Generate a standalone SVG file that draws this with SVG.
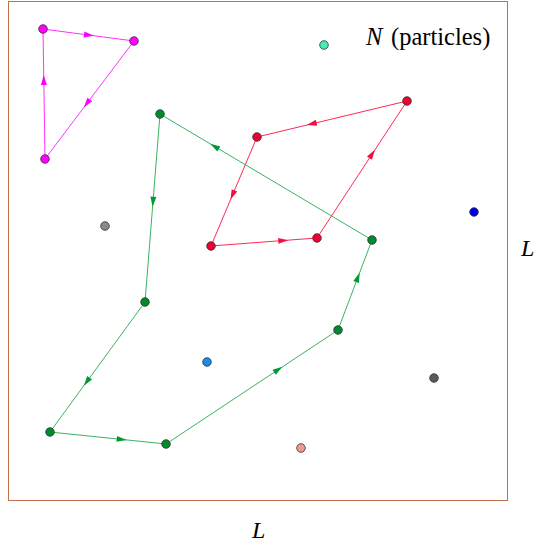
<svg xmlns="http://www.w3.org/2000/svg" width="536" height="547" viewBox="0 0 536 547">
<defs>
<style>
.n{stroke:#333;stroke-width:0.8}
.e{fill:none;stroke-width:1}
.mg{stroke:#ff33ff}
.rd{stroke:#ff2a55}
.gr{stroke:#3ab460}
.t{font-family:"Liberation Serif","Times New Roman",serif;font-size:24px;fill:#000}
.i{font-style:italic}
</style>
<marker id="am" markerUnits="userSpaceOnUse" markerWidth="12" markerHeight="8" viewBox="-6 -4 12 8" refX="0" refY="0" orient="auto"><path d="M-5,-3 L5,0 L-5,3 Z" fill="#ff00ff"/></marker>
<marker id="ar" markerUnits="userSpaceOnUse" markerWidth="12" markerHeight="8" viewBox="-6 -4 12 8" refX="0" refY="0" orient="auto"><path d="M-5,-3 L5,0 L-5,3 Z" fill="#f0103f"/></marker>
<marker id="ag" markerUnits="userSpaceOnUse" markerWidth="12" markerHeight="8" viewBox="-6 -4 12 8" refX="0" refY="0" orient="auto"><path d="M-5,-3 L5,0 L-5,3 Z" fill="#009a35"/></marker>
</defs>
<rect x="0" y="0" width="536" height="547" fill="#fff"/>
<rect id="box" x="8.5" y="1.5" width="499" height="499" fill="none" stroke="#c0704a" stroke-width="1"/>
<g id="connectors">
<polyline class="e mg" marker-mid="url(#am)" points="43,29 89,35.1 134,41"/>
<polyline class="e mg" marker-mid="url(#am)" points="134,41 86.8,103.5 45,159"/>
<polyline class="e mg" marker-mid="url(#am)" points="45,159 43.8,80 43,29"/>
<polyline class="e rd" marker-mid="url(#ar)" points="407,101 311.7,123.9 257,137"/>
<polyline class="e rd" marker-mid="url(#ar)" points="257,137 232.5,195 211,246"/>
<polyline class="e rd" marker-mid="url(#ar)" points="211,246 283.3,240.5 317,238"/>
<polyline class="e rd" marker-mid="url(#ar)" points="317,238 372.2,154 407,101"/>
<polyline class="e gr" marker-mid="url(#ag)" points="160,114 153,201.7 145,302"/>
<polyline class="e gr" marker-mid="url(#ag)" points="145,302 86.7,381.8 50,432"/>
<polyline class="e gr" marker-mid="url(#ag)" points="50,432 121.7,439.4 166,444"/>
<polyline class="e gr" marker-mid="url(#ag)" points="166,444 278.3,369.6 338,330"/>
<polyline class="e gr" marker-mid="url(#ag)" points="338,330 357.9,277.3 372,240"/>
<polyline class="e gr" marker-mid="url(#ag)" points="372,240 214.5,146.4 160,114"/>
</g>
<g id="nodes">
<g id="m1"><circle class="n" cx="43" cy="29" r="4.3" fill="#ff00ff"/></g>
<g id="m2"><circle class="n" cx="134" cy="41" r="4.3" fill="#ff00ff"/></g>
<g id="m3"><circle class="n" cx="45" cy="159" r="4.3" fill="#ff00ff"/></g>
<g id="r1"><circle class="n" cx="407" cy="101" r="4.3" fill="#ee0033"/></g>
<g id="r2"><circle class="n" cx="257" cy="137" r="4.3" fill="#ee0033"/></g>
<g id="r3"><circle class="n" cx="211" cy="246" r="4.3" fill="#ee0033"/></g>
<g id="r4"><circle class="n" cx="317" cy="238" r="4.3" fill="#ee0033"/></g>
<g id="g1"><circle class="n" cx="160" cy="114" r="4.3" fill="#008a2e"/></g>
<g id="g2"><circle class="n" cx="145" cy="302" r="4.3" fill="#008a2e"/></g>
<g id="g3"><circle class="n" cx="50" cy="432" r="4.3" fill="#008a2e"/></g>
<g id="g4"><circle class="n" cx="166" cy="444" r="4.3" fill="#008a2e"/></g>
<g id="g5"><circle class="n" cx="338" cy="330" r="4.3" fill="#008a2e"/></g>
<g id="g6"><circle class="n" cx="372" cy="240" r="4.3" fill="#008a2e"/></g>
<g id="p1"><circle class="n" cx="324" cy="45" r="4.3" fill="#40eebb"/></g>
<g id="p2"><circle class="n" cx="105" cy="226" r="4.3" fill="#8a8a8a"/></g>
<g id="p3"><circle class="n" cx="474" cy="212" r="4.3" fill="#0000ee"/></g>
<g id="p4"><circle class="n" cx="207" cy="362" r="4.3" fill="#1a8cf0"/></g>
<g id="p5"><circle class="n" cx="434" cy="378" r="4.3" fill="#5a5a5a"/></g>
<g id="p6"><circle class="n" cx="301" cy="448" r="4.3" fill="#f29a90"/></g>
</g>
<g id="labels">
<text class="t" x="366" y="45" style="font-size:24.5px"><tspan class="i">N</tspan><tspan x="391">(particles)</tspan></text>
<text class="t i" x="521" y="256">L</text>
<text class="t i" x="252" y="538">L</text>
</g>
</svg>
